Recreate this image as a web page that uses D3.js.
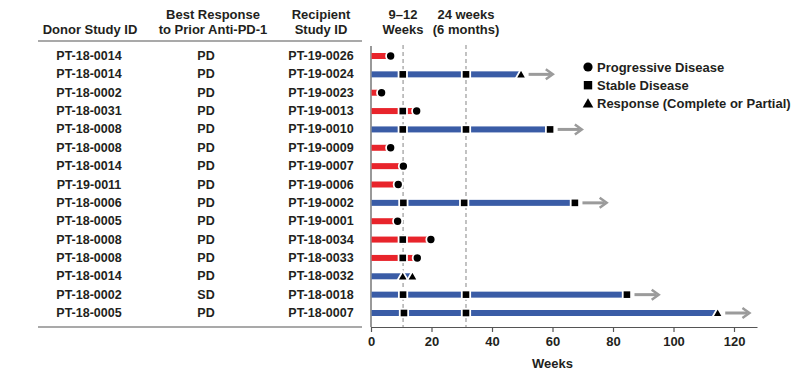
<!DOCTYPE html>
<html><head><meta charset="utf-8">
<script src="https://cdn.jsdelivr.net/npm/d3@7"></script>
<style>body{margin:0;background:#fff}svg{display:block;font-family:"Liberation Sans",Arial,Helvetica,sans-serif;font-weight:bold}</style>
</head><body><svg id="c" width="800" height="371"></svg>
<script>
const donors = ["PT-18-0014","PT-18-0014","PT-18-0002","PT-18-0031","PT-18-0008","PT-18-0008","PT-18-0014","PT-19-0011","PT-18-0006","PT-18-0005","PT-18-0008","PT-18-0008","PT-18-0014","PT-18-0002","PT-18-0005"];
const responses = ["PD","PD","PD","PD","PD","PD","PD","PD","PD","PD","PD","PD","PD","SD","PD"];
const recipients = ["PT-19-0026","PT-19-0024","PT-19-0023","PT-19-0013","PT-19-0010","PT-19-0009","PT-19-0007","PT-19-0006","PT-19-0002","PT-19-0001","PT-18-0034","PT-18-0033","PT-18-0032","PT-18-0018","PT-18-0007"];
const markerWeeks = [[6.5],[10.5,31.4,49.6],[3.5],[10.5,15.1],[10.5,31.4,59.2],[6.5],[10.7],[9.0],[10.7,30.8,67.4],[8.8],[10.5,19.8],[10.5,15.3],[10.5,13.7],[10.6,31.4,84.6],[10.9,31.4,114.6]];
const markerTypes = [["PD"],["SD","SD","R"],["PD"],["SD","PD"],["SD","SD","SD"],["PD"],["PD"],["PD"],["SD","SD","SD"],["PD"],["SD","PD"],["SD","PD"],["R","R"],["SD","SD","SD"],["SD","SD","R"]];
const progressed = [true,false,true,true,false,true,true,true,false,true,true,true,false,false,false];
const ongoing = [false,true,false,false,true,false,false,false,true,false,false,false,false,true,true];
const assessmentWeeks = [10.6, 31.4];
const xTicks = [0,20,40,60,80,100,120];
const legendTypes = ["PD","SD","R"];
const legendLabels = ["Progressive Disease","Stable Disease","Response (Complete or Partial)"];

const svg = d3.select("#c");
const txt = "#231f20";
const x = d3.scaleLinear().domain([0,127.6]).range([371,757]);
const y = d3.scalePoint().domain(d3.range(recipients.length)).range([56,313]);
const color = d => d ? "#e8242b" : "#3a5ca6";

// table headers
const hdr = [
  [90,29.5,"Donor Study ID"],[213,14,"Best Response"],[213,29.5,"to Prior Anti-PD-1"],
  [321,14,"Recipient"],[321,29.5,"Study ID"],[403,14,"9\u201312"],[403,29.5,"Weeks"],
  [466,14,"24 weeks"],[466,29.5,"(6 months)"]];
svg.selectAll("text.h").data(hdr).join("text").attr("class","h")
  .attr("x",d=>d[0]).attr("y",d=>d[1]).attr("text-anchor","middle").attr("dominant-baseline","central")
  .attr("font-size",13).attr("fill",txt).text(d=>d[2]);
svg.append("line").attr("x1",38).attr("x2",362).attr("y1",41).attr("y2",41).attr("stroke","#555").attr("stroke-width",1.2);
svg.append("line").attr("x1",38).attr("x2",362).attr("y1",327).attr("y2",327).attr("stroke","#555").attr("stroke-width",1.2);

// table rows
const cols = [[89,donors],[206,responses],[321,recipients]];
cols.forEach(([cx,arr])=>{
  svg.append("g").selectAll("text").data(arr).join("text")
    .attr("x",cx).attr("y",(d,i)=>y(i)).attr("text-anchor","middle").attr("dominant-baseline","central")
    .attr("font-size",12.5).attr("fill",txt).text(d=>d);
});

// dashed reference lines
svg.append("g").selectAll("line").data(assessmentWeeks).join("line")
  .attr("x1",d=>x(d)).attr("x2",d=>x(d)).attr("y1",45).attr("y2",327)
  .attr("stroke","#9a9a9a").attr("stroke-width",1.2).attr("stroke-dasharray","4,3");

// axes
const ax = svg.append("g").attr("transform","translate(0,327)")
  .call(d3.axisBottom(x).tickValues(xTicks).tickSize(5).tickSizeOuter(0).tickPadding(5));
ax.select(".domain").attr("stroke","#555").attr("stroke-width",1.2);
ax.selectAll(".tick line").attr("stroke","#555").attr("stroke-width",1.2);
ax.selectAll(".tick text").attr("font-size",13).attr("font-family","Liberation Sans, Arial, sans-serif").attr("font-weight","bold").attr("fill",txt);
svg.append("line").attr("x1",x(0)).attr("x2",x(0)).attr("y1",46).attr("y2",327).attr("stroke","#555").attr("stroke-width",1.2);
svg.append("text").attr("x",x(60)).attr("y",363).attr("text-anchor","middle").attr("dominant-baseline","central")
  .attr("font-size",13).attr("fill",txt).text("Weeks");

// bars
svg.append("g").selectAll("rect").data(recipients).join("rect")
  .attr("x",x(0)+0.6).attr("y",(d,i)=>y(i)-3).attr("height",6)
  .attr("width",(d,i)=>x(markerWeeks[i][markerWeeks[i].length-1])-x(0))
  .attr("fill",(d,i)=>color(progressed[i]));

// arrows
const arr = svg.append("g");
recipients.forEach((d,i)=>{
  if(!ongoing[i]) return;
  const last = markerWeeks[i][markerWeeks[i].length-1];
  const x1 = x(last+2.5), x2 = x(last+10.5), yy = y(i);
  arr.append("line").attr("x1",x1).attr("x2",x2-2).attr("y1",yy).attr("y2",yy).attr("stroke","#9b9b9b").attr("stroke-width",3);
  arr.append("path").attr("d",`M${x2-7},${yy-5}L${x2},${yy}L${x2-7},${yy+5}`).attr("fill","none").attr("stroke","#9b9b9b").attr("stroke-width",2.5);
});

// markers
function marker(g,type,cx,cy){
  if(type==="PD") g.append("circle").attr("cx",cx).attr("cy",cy).attr("r",4.6);
  else if(type==="SD") g.append("rect").attr("x",cx-4.2).attr("y",cy-4.2).attr("width",8.4).attr("height",8.4);
  else g.append("path").attr("d",`M${cx},${cy-5.2}L${cx+5.3},${cy+4}L${cx-5.3},${cy+4}Z`);
}
const mg = svg.append("g").attr("fill","#000").attr("stroke","#fff").attr("stroke-width",1.8);
recipients.forEach((d,i)=>{
  markerWeeks[i].forEach((w,j)=>marker(mg,markerTypes[i][j],x(w),y(i)));
});

// legend
const lg = svg.append("g").attr("fill","#000");
legendTypes.forEach((t,k)=>{
  const ly = 67 + k*18.2;
  marker(lg,t,588,ly);
  lg.append("text").attr("x",597).attr("y",ly).attr("dominant-baseline","central")
    .attr("font-size",13).attr("fill",txt).text(legendLabels[k]);
});
</script></body></html>
